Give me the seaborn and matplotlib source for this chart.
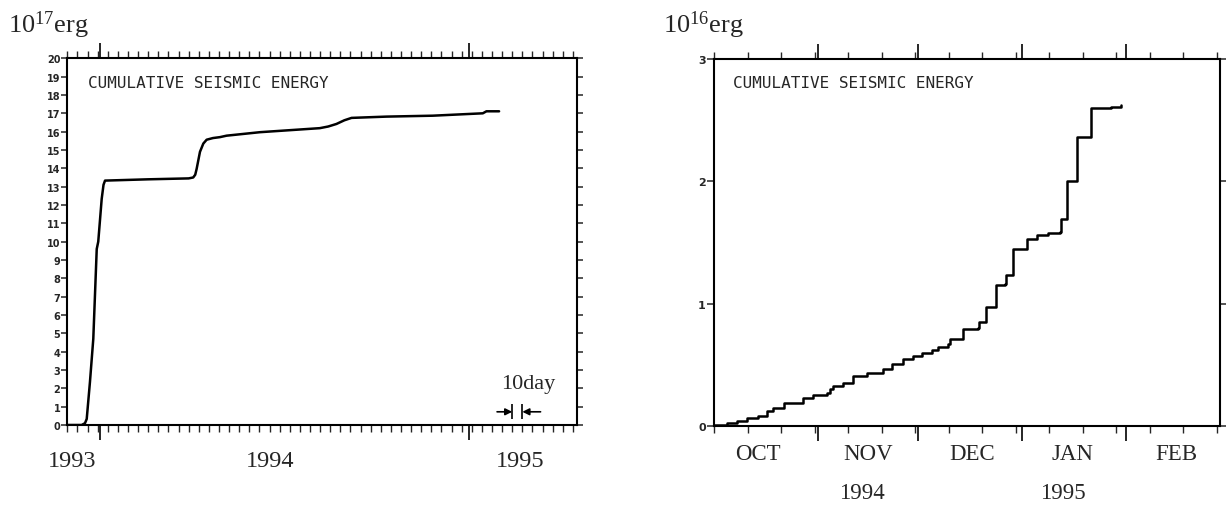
import numpy as np
import pandas as pd
import matplotlib
matplotlib.use("Agg")
import matplotlib.pyplot as plt
import matplotlib.dates as mdates
import matplotlib.ticker as mticker
import seaborn as sns

# ---------------- data ----------------
# left panel: cumulative seismic energy (10^17 erg), days after 1993-11-30
left_start = "1993-11-30"
left_days = [0, 14.2, 17.5, 19.2, 22.4, 25.7, 29.1, 30.6, 34.0, 35.8, 37.3, 80.0, 120.0,
             124.5, 126.5, 127.9, 131.2, 134.5, 137.8, 144.0, 150.9, 157.5, 190.5,
             249.7, 258.0, 266.2, 274.0, 281.1, 315.7, 361.4, 410.9, 414.5, 427.0]
left_energy = [0, 0, 0.1, 0.33, 2.35, 4.7, 9.6, 10.0, 12.33, 13.1, 13.33, 13.4, 13.45,
               13.5, 13.65, 13.97, 14.9, 15.35, 15.56, 15.65, 15.7, 15.78, 15.97,
               16.19, 16.28, 16.42, 16.62, 16.75, 16.82, 16.87, 17.0, 17.11, 17.11]
left_yticks = list(range(0, 21))
left_year_labels = ["1993", "1994", "1995"]
left_year_label_dates = ["1993-12-05", "1994-06-19", "1995-02-21"]
left_long_ticks = ["1994-01-01", "1995-01-01"]

# right panel: cumulative seismic energy (10^16 erg), days after 1994-10-01 (step)
right_start = "1994-10-01"
right_days = [0, 3.8, 6.8, 9.8, 13.2, 15.7, 17.7, 20.8, 26.6, 29.6, 33.6, 34.6, 35.6,
              38.6, 41.6, 45.6, 50.5, 53.0, 56.5, 59.5, 62.0, 65.0, 66.9, 69.9, 70.4,
              74.2, 78.9, 79.2, 81.2, 84.2, 86.8, 87.1, 89.3, 93.5, 96.5, 99.8, 103.3,
              103.5, 105.4, 108.4, 112.4, 118.4, 121.5]
right_energy = [0.01, 0.025, 0.045, 0.063, 0.085, 0.125, 0.145, 0.19, 0.227, 0.254,
                0.27, 0.30, 0.33, 0.35, 0.41, 0.434, 0.467, 0.51, 0.545, 0.573, 0.60,
                0.625, 0.648, 0.67, 0.71, 0.79, 0.80, 0.85, 0.97, 1.156, 1.164, 1.238,
                1.443, 1.527, 1.56, 1.574, 1.582, 1.69, 2.00, 2.366, 2.60, 2.61, 2.625]
right_yticks = [0, 1, 2, 3]
month_labels = ["OCT", "NOV", "DEC", "JAN", "FEB"]
month_label_dates = ["1994-10-14", "1994-11-16", "1994-12-17", "1995-01-16", "1995-02-16"]
month_starts = ["1994-11-01", "1994-12-01", "1995-01-01", "1995-02-01"]
right_year_labels = ["1994", "1995"]
right_year_label_dates = ["1994-11-14", "1995-01-13"]

# ---------------- style ----------------
sns.set_style("ticks")
plt.rcParams["font.family"] = ["DejaVu Sans"]
plt.rcParams["mathtext.fontset"] = "stix"
SERIF = ["Liberation Serif", "DejaVu Serif"]
MONO = ["DejaVu Sans Mono"]

fig = plt.figure(figsize=(12.26, 5.06), dpi=100)
ax1 = fig.add_axes([0.0549, 0.1581, 0.4157, 0.7247])
ax2 = fig.add_axes([0.5824, 0.1561, 0.4127, 0.7253])

t0L = pd.Timestamp(left_start)
t0R = pd.Timestamp(right_start)
df1 = pd.DataFrame({"date": t0L + pd.to_timedelta(left_days, unit="D"),
                    "energy": left_energy})
df2 = pd.DataFrame({"date": t0R + pd.to_timedelta(right_days, unit="D"),
                    "energy": right_energy})

sns.lineplot(data=df1, x="date", y="energy", ax=ax1, color="black", lw=1.8,
             estimator=None)
sns.lineplot(data=df2, x="date", y="energy", ax=ax2, color="black", lw=1.8,
             estimator=None, drawstyle="steps-post")

def dn(s):
    return mdates.date2num(pd.Timestamp(s))

for ax in (ax1, ax2):
    ax.set_xlabel("")
    ax.set_ylabel("")
    for sp in ax.spines.values():
        sp.set_visible(True)
        sp.set_linewidth(1.5)
        sp.set_color("black")
    ax.xaxis.set_major_formatter(mticker.NullFormatter())
    ax.xaxis.set_minor_formatter(mticker.NullFormatter())

# ---- left axes ----
ax1.set_xlim(dn(t0L), dn(t0L + pd.Timedelta(days=504)))
ax1.set_ylim(0, 20)
ax1.xaxis.set_minor_locator(mticker.FixedLocator(
    [dn(t0L + pd.Timedelta(days=10 * k)) for k in range(0, 51)]))
ax1.xaxis.set_major_locator(mticker.FixedLocator([dn(s) for s in left_long_ticks]))
ax1.tick_params(axis="x", which="major", direction="out", length=11, width=1.4,
                top=True, bottom=True, labelbottom=False)
ax1.tick_params(axis="x", which="minor", direction="out", length=5, width=1.0,
                top=True, bottom=True)
ax1.set_yticks(left_yticks)
ax1.set_yticklabels([str(v) for v in left_yticks])
ax1.tick_params(axis="y", which="major", direction="out", length=4, width=1.1,
                left=True, right=True, labelsize=7, pad=1)
for lab in ax1.get_yticklabels():
    lab.set_fontweight("bold")

for txt, d in zip(left_year_labels, left_year_label_dates):
    ax1.text(dn(d), -0.098, txt, transform=ax1.get_xaxis_transform(),
             ha="center", va="center", family=SERIF, fontsize=17.5)

ax1.text(0.041, 0.935, "CUMULATIVE SEISMIC ENERGY", transform=ax1.transAxes,
         ha="left", va="center", family=MONO, fontsize=11.5)

# 10day annotation
b1 = dn(t0L + pd.Timedelta(days=440))
b2 = dn(t0L + pd.Timedelta(days=450))
ax1.vlines([b1, b2], 0.35, 1.15, color="black", lw=1.2)
ax1.annotate("", xy=(b1, 0.72), xytext=(b1 - 15, 0.72),
             arrowprops=dict(arrowstyle="-|>", color="black", lw=1.2,
                             mutation_scale=10, shrinkA=0, shrinkB=0))
ax1.annotate("", xy=(b2, 0.72), xytext=(b2 + 18, 0.72),
             arrowprops=dict(arrowstyle="-|>", color="black", lw=1.2,
                             mutation_scale=10, shrinkA=0, shrinkB=0))
ax1.text(dn(t0L + pd.Timedelta(days=456)), 2.24, "10day", ha="center", va="center",
         family=SERIF, fontsize=16)

# ---- right axes ----
ax2.set_xlim(dn(t0R), dn("1995-03-01"))
ax2.set_ylim(0, 3)
ax2.xaxis.set_minor_locator(mticker.FixedLocator(
    [dn(t0R + pd.Timedelta(days=10 * k)) for k in range(0, 16)]))
ax2.xaxis.set_major_locator(mticker.FixedLocator([dn(s) for s in month_starts]))
ax2.tick_params(axis="x", which="major", direction="out", length=11, width=1.4,
                top=True, bottom=True, labelbottom=False)
ax2.tick_params(axis="x", which="minor", direction="out", length=5, width=1.0,
                top=True, bottom=True)
ax2.set_yticks(right_yticks)
ax2.set_yticklabels([str(v) for v in right_yticks])
ax2.tick_params(axis="y", which="major", direction="out", length=5, width=1.1,
                left=True, right=True, labelsize=8, pad=1)
for lab in ax2.get_yticklabels():
    lab.set_fontweight("bold")

for txt, d in zip(month_labels, month_label_dates):
    ax2.text(dn(d), -0.076, txt, transform=ax2.get_xaxis_transform(),
             ha="center", va="center", family=SERIF, fontsize=16.5)
for txt, d in zip(right_year_labels, right_year_label_dates):
    ax2.text(dn(d), -0.18, txt, transform=ax2.get_xaxis_transform(),
             ha="center", va="center", family=SERIF, fontsize=16.5)

ax2.text(0.0375, 0.937, "CUMULATIVE SEISMIC ENERGY", transform=ax2.transAxes,
         ha="left", va="center", family=MONO, fontsize=11.5)

# unit labels
fig.text(8 / 1226, 1 - 33 / 506, r"$\mathregular{10^{17}}$erg", ha="left",
         va="baseline", family=SERIF, fontsize=19)
fig.text(663 / 1226, 1 - 33 / 506, r"$\mathregular{10^{16}}$erg", ha="left",
         va="baseline", family=SERIF, fontsize=19)

fig.savefig("out.png", dpi=100, facecolor="white")
